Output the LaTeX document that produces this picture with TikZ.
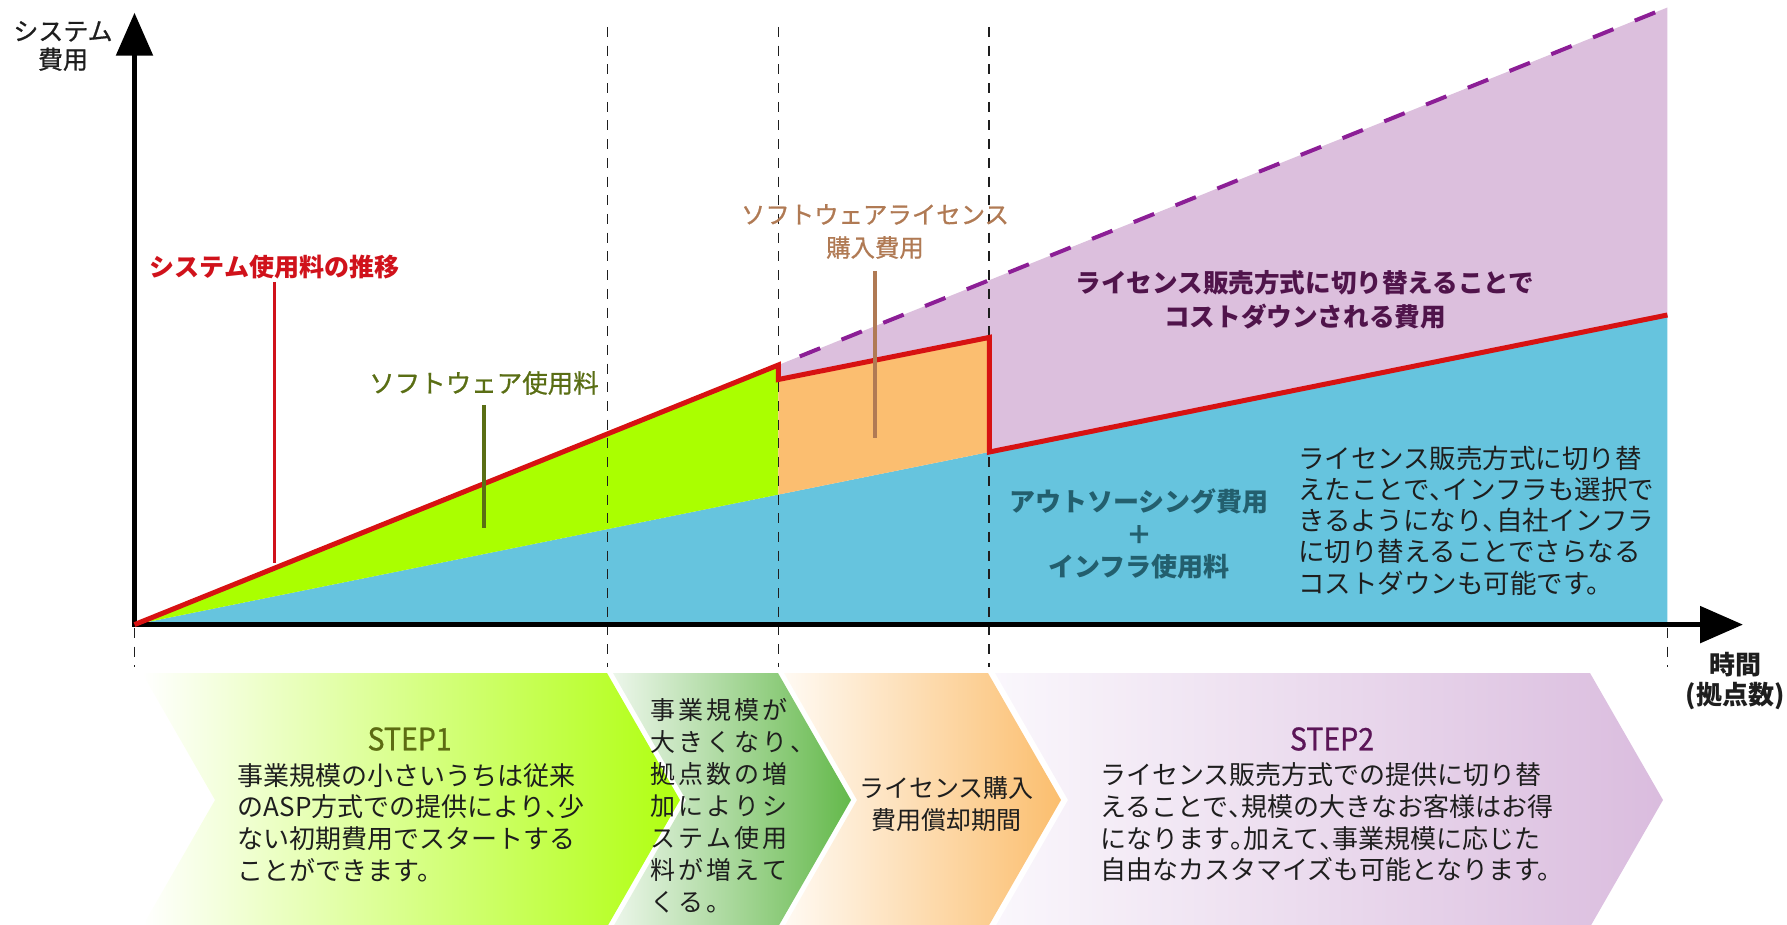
\documentclass[tikz,border=0pt]{standalone}
\usepackage{fontspec}
\usepackage{graphicx}
\setmainfont{Noto Sans CJK JP}
\newfontfamily\medfont[FakeBold=0.8]{Noto Sans CJK JP}
\usetikzlibrary{arrows.meta}
\definecolor{cblue}{RGB}{102,196,222}
\definecolor{clime}{RGB}{170,255,0}
\definecolor{corange}{RGB}{251,190,112}
\definecolor{cpurple}{RGB}{220,191,221}
\definecolor{cred}{RGB}{215,18,18}
\definecolor{cdash}{RGB}{140,30,150}
\definecolor{tred}{RGB}{208,18,27}
\definecolor{tolive}{RGB}{90,110,20}
\definecolor{ttan}{RGB}{176,122,84}
\definecolor{tpurple}{RGB}{80,20,75}
\definecolor{tteal}{RGB}{35,95,110}
\definecolor{tstepone}{RGB}{92,107,18}
\definecolor{tsteptwo}{RGB}{91,21,87}
\definecolor{gA}{RGB}{176,255,16}
\definecolor{gBl}{RGB}{236,246,234}
\definecolor{gB}{RGB}{100,185,75}
\definecolor{gCl}{RGB}{255,250,243}
\definecolor{gC}{RGB}{251,190,110}
\definecolor{gDl}{RGB}{250,247,252}
\definecolor{gD}{RGB}{218,188,222}
\definecolor{ink}{RGB}{30,30,30}
\newcommand\fz[2]{\fontsize{#1}{#2}\selectfont}
\newcommand\tou{\makebox[0.5em][l]{、}}
\newcommand\kut{\makebox[0.5em][l]{。}}
\def\trk#1{\trkloop#1\relax}
\def\trkloop#1{\ifx#1\relax\else#1\kern3pt\expandafter\trkloop\fi}
\tikzset{
  txt/.style={inner sep=0pt, outer sep=0pt},
  gridline/.style={draw=ink, line width=1.8pt, dash pattern=on 10pt off 8.7pt},
  axisline/.style={line width=5.5pt, line join=miter,
    {Triangle[length=43pt,width=36pt]}-{Triangle[length=43pt,width=36pt]}},
  costline/.style={draw=cred, line width=5pt, line join=miter},
  saveline/.style={draw=cdash, line width=4pt, dash pattern=on 22pt off 23pt, dash phase=22pt},
  leader/.style={line width=#1},
}
\begin{document}
\begin{tikzpicture}[x=1pt,y=-1pt]
\useasboundingbox (0,0) rectangle (1787,925);
% key points
\coordinate (O) at (134.5,624.6);
\coordinate (Ytip) at (134.5,12.7);
\coordinate (Xtip) at (1743,624.6);
\coordinate (Rpeak) at (778.4,365);
\coordinate (Rstep) at (778.4,379.5);
\coordinate (Otop) at (989.3,337.4);
\coordinate (Obot) at (989.3,452);
\coordinate (Bmid) at (778.4,494.6);
\coordinate (Rend) at (1667.4,315);
\coordinate (Dend) at (1667.4,7.5);
\coordinate (Bend) at (1667.4,624.6);
% areas
\fill[cblue] (O) -- (Rend) -- (Bend) -- cycle;
\fill[clime] (O) -- (Rpeak) -- (Bmid) -- cycle;
\fill[corange] (Rstep) -- (Otop) -- (Obot) -- (Bmid) -- cycle;
\fill[cpurple] (Rpeak) -- (Dend) -- (Rend) -- (Obot) -- (Otop) -- (Rstep) -- cycle;
% dashed guides
\foreach \x in {607.5,778.4,989.3} \draw[gridline] (\x,27) -- (\x,667);
\foreach \x in {134.5,1667.4} \draw[gridline] (\x,628) -- (\x,667);
% savings dashed line
\draw[saveline] (Rpeak) -- (Dend);
% axes
\draw[axisline] (Ytip) -- (O) -- (Xtip);
% cost line
\draw[costline] (O) -- (Rpeak) -- (Rstep) -- (Otop) -- (Obot) -- (Rend);
% chevrons
\shade[left color=white, middle color=gA!60!white, right color=gA] (142,673) -- (607,673) -- (680,800) -- (607,927) -- (142,927) -- (215,800) -- cycle;
\shade[left color=gBl, right color=gB] (613,673) -- (778,673) -- (851,800) -- (778,927) -- (613,927) -- (686,800) -- cycle;
\shade[left color=gCl, right color=gC] (784,673) -- (988,673) -- (1061,800) -- (988,927) -- (784,927) -- (857,800) -- cycle;
\shade[left color=gDl, right color=gD] (995,673) -- (1590,673) -- (1663,800) -- (1590,927) -- (995,927) -- (1068,800) -- cycle;
% axis labels
\node[txt, text=ink, font=\medfont\fz{25}{28.3}, align=center] (ylab) at (63,46) {システム\\費用};
\node[txt, text=ink, font=\fz{26}{30}\bfseries, align=center] (xlab) at (1735,681) {時間\\(拠点数)};
% chart labels
\node[txt, text=tred, font=\fz{25}{30}\bfseries] (lblred) at (274.5,267) {システム使用料の推移};
\coordinate (redfoot) at (274.5,563);
\draw[leader=2.8pt, draw=tred, shorten <=3pt] (lblred.south) -- (redfoot);
\node[txt, text=tolive, font=\medfont\fz{25.5}{30}] (lblolive) at (484,383) {ソフトウェア使用料};
\coordinate (olivefoot) at (484,528);
\draw[leader=3.5pt, draw=tolive, shorten <=10pt] (lblolive.south) -- (olivefoot);
\node[txt, text=ttan, font=\medfont\fz{24.4}{33}, align=center] (lbltan) at (875,231.5) {ソフトウェアライセンス\\購入費用};
\coordinate (tanfoot) at (875,438);
\draw[leader=3.3pt, draw=ttan, shorten <=12pt] (lbltan.south) -- (tanfoot);
\node[txt, text=tpurple, font=\fz{25.6}{34}\bfseries, align=center] (lblpur) at (1305,300) {ライセンス販売方式に切り替えることで\\コストダウンされる費用};
\node[txt, text=tteal, font=\fz{26}{32.5}\bfseries, align=center] (lblteal) at (1139,534) {アウトソーシング費用\\＋\\インフラ使用料};
\node[txt, text=ink, font=\fz{26.5}{31.3}, align=left, anchor=west] (lblnote) at (1298,520.5) {ライセンス販売方式に切り替\\えたことで\tou インフラも選択で\\きるようになり\tou 自社インフラ\\に切り替えることでさらなる\\コストダウンも可能です。};
% chevron texts
\node[txt, text=tstepone, font=\medfont\fz{31}{31}] (s1title) at (409.6,739) {\scalebox{0.92}[1]{STEP1}};
\node[txt, text=ink, font=\fz{26}{31.7}, align=left] (s1body) at (411,822.5) {事業規模の小さいうちは従来\\のASP方式での提供により\tou 少\\ない初期費用でスタートする\\ことができます。};
\node[txt, text=ink, font=\fz{25}{31.95}, align=left, anchor=west] (c2body) at (650,805.85) {\trk{事業規模が}\\\trk{大きくなり、}\\\trk{拠点数の増}\\\trk{加によりシ}\\\trk{ステム使用}\\\trk{料が増えて}\\\trk{くる。}};
\node[txt, text=ink, font=\fz{25}{32}, align=center] (c3body) at (946.7,804) {ライセンス購入\\費用償却期間};
\node[txt, text=tsteptwo, font=\medfont\fz{31}{31}] (s2title) at (1332,739) {\scalebox{0.92}[1]{STEP2}};
\node[txt, text=ink, font=\fz{26}{31.7}, align=left] (s2body) at (1332,822.5) {ライセンス販売方式での提供に切り替\\えることで\tou 規模の大きなお客様はお得\\になります\kut 加えて\tou 事業規模に応じた\\自由なカスタマイズも可能となります。};
\end{tikzpicture}
\end{document}
